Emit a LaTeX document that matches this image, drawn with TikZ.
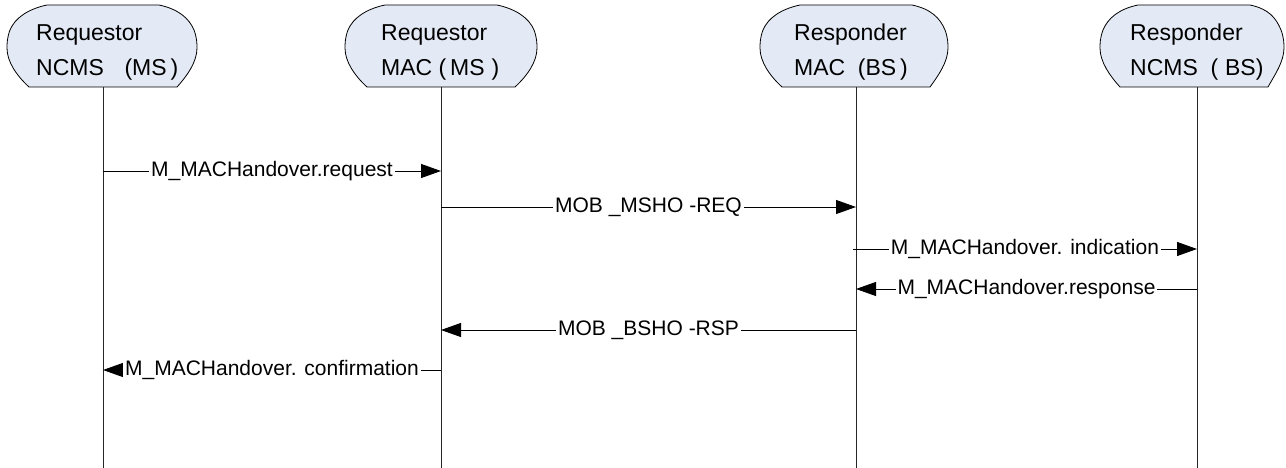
\documentclass[tikz,border=0pt]{standalone}
\usepackage{fontspec}
\setmainfont{Liberation Sans}
\usetikzlibrary{arrows.meta}
\definecolor{hdrfill}{RGB}{228,234,245}
\newcommand\drawhead[3]{%
  \path[hdrshape] (#1-56,5) -- (#1+56,5)
    .. controls (#1+75,9) and (#1+#3-8,18) .. (#1+#3-3,30)
    .. controls (#1+#3,38) and (#1+#3,44) .. (#1+#3,48)
    .. controls (#1+#3,62) and (#1+#3-10,76) .. (#1+74,87)
    -- (#1-74,87)
    .. controls (#1-#2+10,76) and (#1-#2,62) .. (#1-#2,48)
    .. controls (#1-#2,44) and (#1-#2,38) .. (#1-#2+3,30)
    .. controls (#1-#2+8,18) and (#1-75,9) .. (#1-56,5) -- cycle;}
\begin{document}
\begin{tikzpicture}[x=1pt,y=-1pt,
  hdrshape/.style={draw=black, line width=0.8pt, fill=hdrfill},
  hdrtext/.style={align=left, anchor=west, inner sep=0pt, font=\fontsize{23}{35}\selectfont},
  lifeline/.style={draw=black!85, line width=0.9pt},
  msg/.style={draw=black, line width=0.9pt, -{Triangle[length=20pt,width=14pt]}},
  lbl/.style={fill=white, inner sep=2pt, font=\fontsize{21}{25}\selectfont}]
\useasboundingbox (0,0) rectangle (1286,468);

% headers
\drawhead{103}{96}{94}
\drawhead{441}{96}{96}
\drawhead{856}{96}{92}
\drawhead{1194}{94}{90}

\node[hdrtext] (h1) at (36,52) {Requestor\\NCMS\hspace{0.9em}(MS\,)};
\node[hdrtext] (h2) at (381,52) {Requestor\\MAC (\,MS\hspace{0.3em})};
\node[hdrtext] (h3) at (794,52) {Responder\\MAC\hspace{0.55em}(BS\,)};
\node[hdrtext] (h4) at (1130,52) {Responder\\NCMS\hspace{0.55em}(\hspace{0.3em}BS)};

% lifelines
\coordinate (t1) at (103,87);  \coordinate (b1) at (103,468);
\coordinate (t2) at (441,87);  \coordinate (b2) at (441,468);
\coordinate (t3) at (856,87);  \coordinate (b3) at (856,468);
\coordinate (t4) at (1197,87); \coordinate (b4) at (1197,468);
\draw[lifeline] (t1) -- (b1);
\draw[lifeline] (t2) -- (b2);
\draw[lifeline] (t3) -- (b3);
\draw[lifeline] (t4) -- (b4);

% message end points
\coordinate (m1a) at (103,171);  \coordinate (m1b) at (441,171);
\coordinate (m2a) at (441,207);  \coordinate (m2b) at (856,207);
\coordinate (m3a) at (853,249);  \coordinate (m3b) at (1197,249);
\coordinate (m4a) at (1197,289); \coordinate (m4b) at (856,289);
\coordinate (m5a) at (856,330);  \coordinate (m5b) at (441,330);
\coordinate (m6a) at (441,370);  \coordinate (m6b) at (103,370);

\draw[msg] (m1a) -- node[lbl] {M\_MACHandover.request} (m1b);
\draw[msg] (m2a) -- node[lbl] {MOB \_MSHO -REQ} (m2b);
\draw[msg] (m3a) -- node[lbl] {M\_MACHandover. indication} (m3b);
\draw[msg] (m4a) -- node[lbl] {M\_MACHandover.response} (m4b);
\draw[msg] (m5a) -- node[lbl] {MOB \_BSHO -RSP} (m5b);
\draw[msg] (m6a) -- node[lbl] {M\_MACHandover. confirmation} (m6b);
\end{tikzpicture}
\end{document}
